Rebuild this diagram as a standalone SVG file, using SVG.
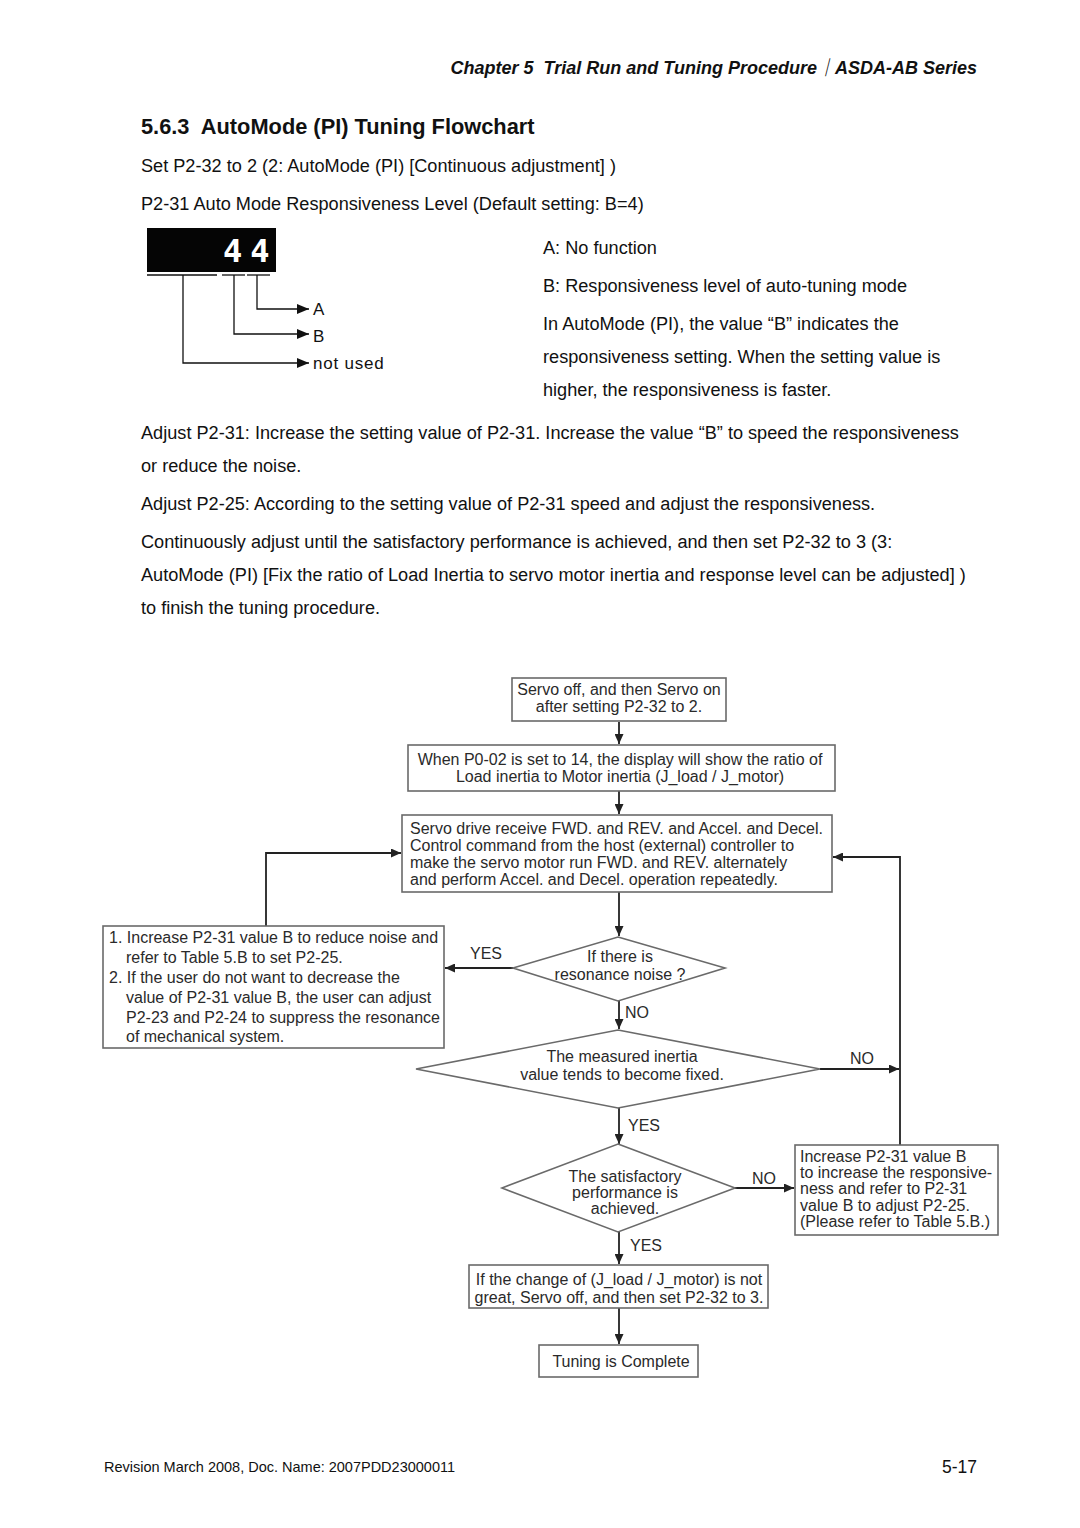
<svg xmlns="http://www.w3.org/2000/svg" width="1080" height="1528" viewBox="0 0 1080 1528">
<style>
.body{font-family:"Liberation Sans",Arial,sans-serif;font-size:18.15px;fill:#111}
.hdr{font-family:"Liberation Sans","Noto Sans CJK SC",Arial,sans-serif;font-size:18px;font-weight:bold;font-style:italic;fill:#111}
.ttl{font-family:"Liberation Sans",Arial,sans-serif;font-size:21.8px;font-weight:bold;fill:#111}
.ft{font-family:"Liberation Sans",Arial,sans-serif;fill:#111}
.fc{font-family:"Liberation Sans",Arial,sans-serif;font-size:16px;fill:#2a2a2a}
.fcm{text-anchor:middle}
.box{fill:#fff;stroke:#6a6a6a;stroke-width:1.6}
.con{fill:none;stroke:#222;stroke-width:1.8}
.dl{fill:none;stroke:#111;stroke-width:1.3}
.lbl{font-family:"Liberation Sans",Arial,sans-serif;font-size:17px;fill:#111;letter-spacing:0.8px}
</style>
<defs>
<marker id="ah" markerUnits="userSpaceOnUse" markerWidth="10" markerHeight="9" refX="10" refY="4.5" orient="auto">
<path d="M0,0 L10,4.5 L0,9 z" fill="#222"/>
</marker>
<marker id="ah2" markerUnits="userSpaceOnUse" markerWidth="12" markerHeight="10" refX="12" refY="5" orient="auto">
<path d="M0,0 L12,5 L0,10 z" fill="#111"/>
</marker>
</defs>
<rect width="1080" height="1528" fill="#fff"/>

<!-- header -->
<text class="hdr" x="977" y="74" text-anchor="end" xml:space="preserve">Chapter 5  Trial Run and Tuning Procedure｜ASDA-AB Series</text>
<text class="ttl" x="141" y="134" xml:space="preserve">5.6.3  AutoMode (PI) Tuning Flowchart</text>
<text class="body" x="141" y="172">Set P2-32 to 2 (2: AutoMode (PI) [Continuous adjustment] )</text>
<text class="body" x="141" y="210">P2-31 Auto Mode Responsiveness Level (Default setting: B=4)</text>

<!-- display illustration -->
<g id="display">
<rect x="147" y="228" width="129" height="44" fill="#050505"/>
<text x="223" y="262" font-family="DejaVu Sans Mono,monospace" font-size="32" font-weight="bold" fill="#fff" letter-spacing="8">44</text>
<line x1="147" y1="275" x2="217" y2="275" stroke="#111" stroke-width="1.3"/>
<line x1="222" y1="275" x2="245" y2="275" stroke="#111" stroke-width="1.3"/>
<line x1="247" y1="275" x2="270" y2="275" stroke="#111" stroke-width="1.3"/>
<polyline class="dl" points="257,275 257,309 309,309" marker-end="url(#ah2)"/>
<polyline class="dl" points="234,275 234,334 309,334" marker-end="url(#ah2)"/>
<polyline class="dl" points="183,275 183,363 309,363" marker-end="url(#ah2)"/>
<text class="lbl" x="313" y="315">A</text>
<text class="lbl" x="313" y="342">B</text>
<text class="lbl" x="313" y="369">not used</text>
</g>

<text class="body" x="543" y="254">A: No function</text>
<text class="body" x="543" y="292">B: Responsiveness level of auto-tuning mode</text>
<text class="body" x="543" y="330">In AutoMode (PI), the value “B” indicates the</text>
<text class="body" x="543" y="363">responsiveness setting. When the setting value is</text>
<text class="body" x="543" y="396">higher, the responsiveness is faster.</text>

<text class="body" x="141" y="439">Adjust P2-31: Increase the setting value of P2-31. Increase the value “B” to speed the responsiveness</text>
<text class="body" x="141" y="472">or reduce the noise.</text>
<text class="body" x="141" y="510">Adjust P2-25: According to the setting value of P2-31 speed and adjust the responsiveness.</text>
<text class="body" x="141" y="548">Continuously adjust until the satisfactory performance is achieved, and then set P2-32 to 3 (3:</text>
<text class="body" x="141" y="581">AutoMode (PI) [Fix the ratio of Load Inertia to servo motor inertia and response level can be adjusted] )</text>
<text class="body" x="141" y="614">to finish the tuning procedure.</text>

<!-- connectors -->
<g id="connectors">
<line class="con" x1="619" y1="722" x2="619" y2="744" marker-end="url(#ah)"/>
<line class="con" x1="619" y1="791" x2="619" y2="814" marker-end="url(#ah)"/>
<line class="con" x1="619" y1="892" x2="619" y2="936" marker-end="url(#ah)"/>
<line class="con" x1="513" y1="968" x2="445" y2="968" marker-end="url(#ah)"/>
<polyline class="con" points="266,926 266,853 401,853" marker-end="url(#ah)"/>
<line class="con" x1="619" y1="1001" x2="619" y2="1029" marker-end="url(#ah)"/>
<line class="con" x1="820" y1="1069" x2="899" y2="1069" marker-end="url(#ah)"/>
<line class="con" x1="619" y1="1108" x2="619" y2="1144" marker-end="url(#ah)"/>
<line class="con" x1="735" y1="1188" x2="794" y2="1188" marker-end="url(#ah)"/>
<polyline class="con" points="900,1145 900,857 833,857" marker-end="url(#ah)"/>
<line class="con" x1="619" y1="1232" x2="619" y2="1264" marker-end="url(#ah)"/>
<line class="con" x1="619" y1="1308" x2="619" y2="1344" marker-end="url(#ah)"/>
<text class="fc" x="470" y="959">YES</text>
<text class="fc" x="625" y="1018">NO</text>
<text class="fc" x="850" y="1064">NO</text>
<text class="fc" x="628" y="1131">YES</text>
<text class="fc" x="752" y="1184">NO</text>
<text class="fc" x="630" y="1251">YES</text>
</g>

<g id="n1">
<rect class="box" x="512" y="678" width="214" height="43"/>
<text class="fc fcm" x="619" y="695">Servo off, and then Servo on</text>
<text class="fc fcm" x="619" y="712">after setting P2-32 to 2.</text>
</g>
<g id="n2">
<rect class="box" x="408" y="745" width="427" height="46"/>
<text class="fc fcm" x="620" y="765">When P0-02 is set to 14, the display will show the ratio of</text>
<text class="fc fcm" x="620" y="782">Load inertia to Motor inertia (J_load / J_motor)</text>
</g>
<g id="n3">
<rect class="box" x="402" y="815" width="430" height="77"/>
<text class="fc" x="410" y="834">Servo drive receive FWD. and REV. and Accel. and Decel.</text>
<text class="fc" x="410" y="851">Control command from the host (external) controller to</text>
<text class="fc" x="410" y="868">make the servo motor run FWD. and REV. alternately</text>
<text class="fc" x="410" y="885">and perform Accel. and Decel. operation repeatedly.</text>
</g>
<g id="n4">
<rect class="box" x="103" y="926" width="341" height="122"/>
<text class="fc" x="109" y="943">1. Increase P2-31 value B to reduce noise and</text>
<text class="fc" x="126" y="963">refer to Table 5.B to set P2-25.</text>
<text class="fc" x="109" y="983">2. If the user do not want to decrease the</text>
<text class="fc" x="126" y="1003">value of P2-31 value B, the user can adjust</text>
<text class="fc" x="126" y="1023">P2-23 and P2-24 to suppress the resonance</text>
<text class="fc" x="126" y="1042">of mechanical system.</text>
</g>
<g id="d1">
<polygon class="box" points="618,937 725,968 618,1001 513,968"/>
<text class="fc fcm" x="620" y="962">If there is</text>
<text class="fc fcm" x="620" y="980">resonance noise ?</text>
</g>
<g id="d2">
<polygon class="box" points="618,1030 820,1069 618,1108 416,1069"/>
<text class="fc fcm" x="622" y="1062">The measured inertia</text>
<text class="fc fcm" x="622" y="1080">value tends to become fixed.</text>
</g>
<g id="d3">
<polygon class="box" points="618,1144 735,1188 618,1232 502,1188"/>
<text class="fc fcm" x="625" y="1182">The satisfactory</text>
<text class="fc fcm" x="625" y="1198">performance is</text>
<text class="fc fcm" x="625" y="1214">achieved.</text>
</g>
<g id="n5">
<rect class="box" x="795" y="1145" width="203" height="90"/>
<text class="fc" x="800" y="1162">Increase P2-31 value B</text>
<text class="fc" x="800" y="1178">to increase the responsive-</text>
<text class="fc" x="800" y="1194">ness and refer to P2-31</text>
<text class="fc" x="800" y="1211">value B to adjust P2-25.</text>
<text class="fc" x="800" y="1227">(Please refer to Table 5.B.)</text>
</g>
<g id="n6">
<rect class="box" x="469" y="1265" width="299" height="43"/>
<text class="fc fcm" x="619" y="1285">If the change of (J_load / J_motor) is not</text>
<text class="fc fcm" x="619" y="1303">great, Servo off, and then set P2-32 to 3.</text>
</g>
<g id="n7">
<rect class="box" x="539" y="1345" width="159" height="32"/>
<text class="fc fcm" x="621" y="1367">Tuning is Complete</text>
</g>

<!-- footer -->
<text class="ft" x="104" y="1472" font-size="14.5" textLength="351" lengthAdjust="spacingAndGlyphs">Revision March 2008, Doc. Name: 2007PDD23000011</text>
<text class="ft" x="942" y="1473" font-size="18" textLength="35" lengthAdjust="spacingAndGlyphs">5-17</text>
</svg>
